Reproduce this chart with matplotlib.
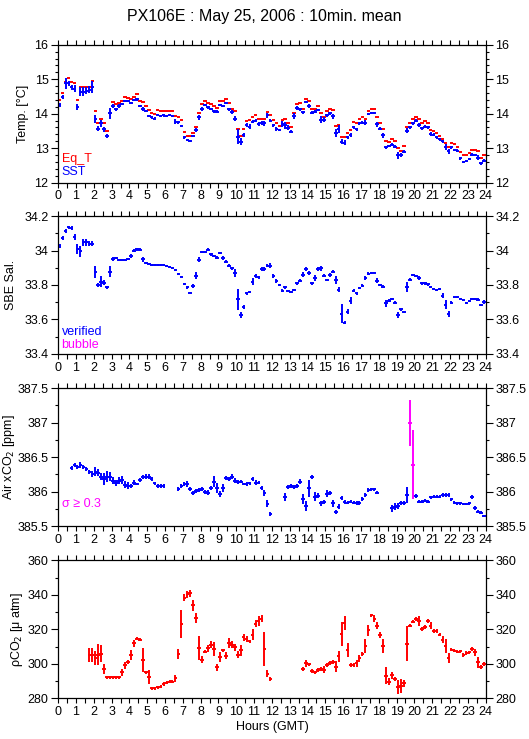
import numpy as np
import matplotlib
matplotlib.use("Agg")
import matplotlib.pyplot as plt
from matplotlib.ticker import MultipleLocator, FuncFormatter

plt.rcParams['font.family'] = ['Liberation Sans', 'DejaVu Sans']
nan = np.nan

# 10 minute means, 144 bins over 0..24 h GMT
bin_hours = (np.arange(144) + 0.5) / 6.0
half_bin = 0.1   # half width of the horizontal dash, hours

# Panel 1: temperatures [deg C]
sst = [14.25, 14.49, 14.88, 14.88, 14.76, 14.73, 14.20, 14.64, 14.64, 14.67, 14.69, 14.78,
       13.84, 13.57, 13.72, 13.55, 13.35, 14.01, 14.22, 14.13, 14.22, 14.28, 14.36, 14.36,
       14.30, 14.40, 14.42, 14.22, 14.14, 14.09, 13.93, 13.89, 13.86, 13.96, 13.93, 13.95,
       13.93, 13.96, 13.93, 13.77, 13.75, 13.64, 13.31, 13.24, 13.21, 13.35, 13.53, 13.89,
       14.14, 14.24, 14.18, 14.14, 14.07, 14.06, 14.25, 14.22, 14.30, 14.13, 14.05, 13.86,
       13.33, 13.19, 13.38, 13.67, 13.62, 13.77, 13.80, 13.70, 13.72, 13.72, 13.95, 13.80,
       13.66, 13.55, 13.53, 13.70, 13.67, 13.59, 13.48, 13.93, 14.17, 14.13, 14.04, 14.34,
       14.22, 14.03, 14.06, 14.11, 13.82, 13.82, 13.95, 14.01, 13.93, 13.43, 13.55, 13.19,
       13.16, 13.31, 13.37, 13.60, 13.55, 13.72, 13.74, 13.74, 13.99, 14.03, 14.01, 13.69,
       13.57, 13.37, 13.02, 13.06, 13.10, 13.04, 12.79, 12.81, 12.90, 13.51, 13.60, 13.72,
       13.80, 13.67, 13.58, 13.62, 13.60, 13.41, 13.39, 13.31, 13.26, 13.20, 13.04, 12.91,
       13.02, 12.95, 12.93, 12.71, 12.61, 12.63, 12.68, 12.81, 12.80, 12.73, 12.56, 12.64]
sst_err = [0.06, 0.06, 0.15, 0.08, 0.08, 0.10, 0.08, 0.13, 0.12, 0.10, 0.10, 0.17,
           0.12, 0.06, 0.10, 0.07, 0.05, 0.15, 0.05, 0.04, 0.05, 0.04, 0.03, 0.03,
           0.03, 0.04, 0.04, 0.04, 0.05, 0.03, 0.04, 0.04, 0.04, 0.03, 0.04, 0.04,
           0.04, 0.04, 0.04, 0.07, 0.05, 0.04, 0.03, 0.03, 0.03, 0.03, 0.05, 0.08,
           0.05, 0.03, 0.04, 0.03, 0.04, 0.04, 0.04, 0.04, 0.03, 0.04, 0.05, 0.08,
           0.22, 0.10, 0.05, 0.07, 0.07, 0.05, 0.04, 0.06, 0.06, 0.07, 0.07, 0.05,
           0.04, 0.05, 0.04, 0.10, 0.10, 0.07, 0.05, 0.08, 0.05, 0.04, 0.05, 0.04,
           0.06, 0.04, 0.04, 0.03, 0.10, 0.07, 0.04, 0.05, 0.07, 0.12, 0.12, 0.08,
           0.08, 0.04, 0.06, 0.05, 0.04, 0.05, 0.05, 0.08, 0.04, 0.03, 0.03, 0.08,
           0.05, 0.08, 0.04, 0.04, 0.04, 0.04, 0.10, 0.06, 0.04, 0.07, 0.04, 0.04,
           0.04, 0.07, 0.04, 0.04, 0.03, 0.05, 0.04, 0.04, 0.04, 0.04, 0.08, 0.08,
           0.04, 0.04, 0.04, 0.04, 0.03, 0.03, 0.03, 0.04, 0.03, 0.06, 0.04, 0.04]
eq_t = [14.40, 14.59, 14.93, 15.04, 14.93, 14.88, 14.40, 14.76, 14.78, 14.78, 14.78, 14.96,
        14.09, 13.72, 13.86, 13.72, 13.49, 14.03, 14.35, 14.28, 14.32, 14.38, 14.49, 14.46,
        14.42, 14.49, 14.56, 14.38, 14.34, 14.22, 14.10, 14.03, 13.99, 14.10, 14.07, 14.09,
        14.07, 14.09, 14.09, 13.93, 13.89, 13.82, 13.48, 13.35, 13.35, 13.45, 13.62, 14.03,
        14.28, 14.38, 14.32, 14.28, 14.22, 14.16, 14.38, 14.36, 14.42, 14.30, 14.14, 14.07,
        13.55, 13.35, 13.55, 13.80, 13.82, 13.89, 13.95, 13.84, 13.84, 13.84, 14.06, 13.95,
        13.82, 13.72, 13.65, 13.82, 13.84, 13.72, 13.60, 14.01, 14.28, 14.30, 14.14, 14.44,
        14.37, 14.15, 14.15, 14.22, 14.01, 13.91, 14.07, 14.13, 14.11, 13.64, 13.67, 13.33,
        13.31, 13.43, 13.53, 13.76, 13.72, 13.84, 13.89, 13.86, 14.09, 14.14, 14.15, 13.89,
        13.72, 13.57, 13.21, 13.19, 13.26, 13.20, 13.01, 12.93, 13.06, 13.60, 13.74, 13.84,
        13.91, 13.84, 13.74, 13.78, 13.74, 13.53, 13.49, 13.43, 13.35, 13.28, 13.14, 13.02,
        13.14, 13.11, 13.04, 12.90, 12.79, 12.79, 12.85, 12.95, 12.95, 12.91, 12.72, 12.80]

# Panel 2: SBE salinity
sal = [34.027, 34.072, 34.111, 34.134, 34.130, 34.078, 34.008, 33.995, 34.047, 34.047, 34.040, 34.040,
       33.878, 33.800, 33.820, 33.814, 33.787, 33.878, 33.950, 33.956, 33.946, 33.946, 33.946, 33.950,
       33.969, 34.000, 34.008, 34.004, 33.950, 33.927, 33.923, 33.915, 33.917, 33.915, 33.917, 33.915,
       33.911, 33.907, 33.896, 33.888, 33.865, 33.849, 33.807, 33.787, 33.756, 33.795, 33.853, 33.946,
       33.991, 33.993, 34.004, 33.977, 33.966, 33.958, 33.985, 33.956, 33.936, 33.913, 33.896, 33.869,
       33.717, 33.626, 33.671, 33.752, 33.760, 33.820, 33.853, 33.845, 33.892, 33.892, 33.911, 33.911,
       33.853, 33.824, 33.800, 33.768, 33.787, 33.766, 33.762, 33.772, 33.810, 33.824, 33.859, 33.892,
       33.869, 33.810, 33.841, 33.892, 33.898, 33.853, 33.830, 33.859, 33.878, 33.830, 33.772, 33.632,
       33.582, 33.644, 33.710, 33.768, 33.752, 33.783, 33.795, 33.841, 33.865, 33.872, 33.872, 33.824,
       33.800, 33.791, 33.694, 33.710, 33.721, 33.698, 33.626, 33.659, 33.642, 33.787, 33.830, 33.859,
       33.853, 33.839, 33.810, 33.810, 33.803, 33.787, 33.779, 33.772, 33.776, 33.737, 33.686, 33.632,
       33.698, 33.729, 33.729, 33.721, 33.714, 33.698, 33.706, 33.717, 33.717, 33.714, 33.684, 33.702]
sal_err = [0.010, 0.010, 0.012, 0.010, 0.012, 0.020, 0.030, 0.030, 0.020, 0.020, 0.015, 0.015,
           0.035, 0.010, 0.030, 0.015, 0.010, 0.030, 0.010, 0.008, 0.005, 0.005, 0.005, 0.005,
           0.010, 0.008, 0.008, 0.008, 0.015, 0.005, 0.005, 0.005, 0.005, 0.004, 0.004, 0.004,
           0.004, 0.005, 0.005, 0.005, 0.005, 0.004, 0.006, 0.010, 0.005, 0.010, 0.020, 0.015,
           0.008, 0.005, 0.008, 0.010, 0.006, 0.008, 0.006, 0.010, 0.008, 0.010, 0.010, 0.025,
           0.060, 0.020, 0.012, 0.008, 0.008, 0.020, 0.010, 0.008, 0.012, 0.010, 0.008, 0.015,
           0.010, 0.010, 0.008, 0.006, 0.010, 0.006, 0.006, 0.006, 0.008, 0.008, 0.015, 0.012,
           0.012, 0.010, 0.015, 0.012, 0.015, 0.008, 0.005, 0.012, 0.008, 0.025, 0.015, 0.055,
           0.010, 0.015, 0.020, 0.006, 0.008, 0.008, 0.008, 0.012, 0.008, 0.006, 0.004, 0.015,
           0.006, 0.008, 0.020, 0.010, 0.006, 0.010, 0.020, 0.010, 0.004, 0.030, 0.008, 0.005,
           0.005, 0.012, 0.008, 0.008, 0.006, 0.005, 0.005, 0.004, 0.004, 0.015, 0.025, 0.020,
           0.008, 0.004, 0.004, 0.005, 0.004, 0.006, 0.005, 0.006, 0.006, 0.008, 0.004, 0.010]

# Panel 3: air xCO2 [ppm]
air_xco2 = [nan, nan, nan, nan, 386.338, 386.386, 386.352, 386.386, 386.352, 386.323, 386.289, 386.255,
            386.289, 386.275, 386.217, 386.178, 386.217, 386.217, 386.159, 386.120, 386.159, 386.168, 386.096, 386.081,
            386.081, 386.130, 386.110, 386.168, 386.207, 386.217, 386.217, 386.178, 386.120, 386.081, 386.081, 386.081,
            nan, nan, nan, nan, 386.033, 386.081, 386.110, 386.110, 386.033, 385.975, 386.013, 386.023,
            386.042, 385.999, 385.984, 386.047, 386.144, 386.047, 385.965, 386.047, 386.192, 386.178, 386.217, 386.159,
            386.144, 386.144, 386.110, 386.110, 386.120, 386.178, 386.130, 386.130, 386.047, 385.975, 385.820, 385.674,
            nan, nan, nan, nan, 385.916, 386.062, 386.081, 386.062, 386.081, 386.144, 385.887, 385.790,
            386.047, 386.207, 385.926, 385.940, 385.829, 385.853, 385.965, 385.984, 385.829, 385.699, 385.781, 385.902,
            385.853, 385.839, 385.853, 385.839, 385.829, 385.829, 385.887, 385.950, 386.023, 386.033, 386.033, 385.984,
            nan, nan, nan, nan, 385.757, 385.781, 385.790, 385.839, 385.829, 385.950, 386.990, 386.386,
            385.936, 385.853, 385.853, 385.868, 385.853, 385.916, 385.926, 385.926, 385.926, 385.950, 385.950, 385.950,
            385.887, 385.839, 385.829, 385.829, 385.820, 385.820, 385.829, 385.916, 385.757, 385.709, 385.694, 385.646]
air_xco2_err = [nan, nan, nan, nan, 0.03, 0.03, 0.03, 0.04, 0.03, 0.03, 0.03, 0.04,
                0.06, 0.05, 0.05, 0.09, 0.08, 0.07, 0.05, 0.04, 0.05, 0.06, 0.05, 0.05,
                0.03, 0.03, 0.02, 0.03, 0.03, 0.03, 0.03, 0.03, 0.02, 0.03, 0.03, 0.03,
                nan, nan, nan, nan, 0.03, 0.03, 0.03, 0.04, 0.03, 0.03, 0.03, 0.03,
                0.03, 0.03, 0.04, 0.03, 0.08, 0.07, 0.04, 0.06, 0.03, 0.03, 0.03, 0.03,
                0.03, 0.02, 0.02, 0.03, 0.02, 0.03, 0.03, 0.02, 0.03, 0.04, 0.05, 0.03,
                nan, nan, nan, nan, 0.06, 0.03, 0.03, 0.03, 0.03, 0.04, 0.07, 0.07,
                0.12, 0.03, 0.06, 0.04, 0.04, 0.03, 0.05, 0.03, 0.05, 0.03, 0.04, 0.03,
                0.03, 0.02, 0.02, 0.02, 0.03, 0.03, 0.03, 0.03, 0.03, 0.02, 0.02, 0.02,
                nan, nan, nan, nan, 0.05, 0.05, 0.05, 0.03, 0.03, 0.12, 0.33, 0.50,
                0.03, 0.02, 0.02, 0.02, 0.02, 0.02, 0.02, 0.02, 0.02, 0.03, 0.03, 0.03,
                0.02, 0.02, 0.02, 0.02, 0.02, 0.02, 0.02, 0.03, 0.03, 0.02, 0.02, 0.02]

# Panel 4: pCO2 [uatm]
pco2 = [nan, nan, nan, nan, nan, nan, nan, nan, nan, nan, 305.2, 305.2,
        303.3, 305.2, 305.8, 296.9, 292.2, 292.2, 292.2, 292.2, 292.2, 295.0, 299.2, 301.0,
        305.2, 312.0, 314.6, 314.0, 302.3, 295.1, 292.2, 285.8, 285.8, 286.4, 286.8, 288.3,
        289.1, 289.7, 289.7, 291.7, 305.8, 323.1, 338.3, 340.2, 340.8, 333.8, 326.6, 309.1,
        302.3, 307.0, 309.1, 311.1, 308.5, 298.1, 303.9, 307.8, 304.7, 312.0, 311.1, 309.7,
        305.2, 307.8, 315.5, 314.4, 313.0, 316.9, 323.1, 324.7, 326.0, 308.5, 294.2, 291.1,
        nan, nan, nan, nan, nan, nan, nan, nan, nan, nan, 296.9, 300.4,
        299.6, 295.7, 295.0, 296.5, 296.9, 296.5, 299.2, 300.4, 301.0, 298.4, 304.3, 317.5,
        323.7, 307.8, 299.2, 299.2, 300.4, 303.1, 305.8, 310.5, 319.4, 328.0, 326.0, 322.1,
        316.7, 310.1, 293.0, 289.7, 293.4, 291.3, 286.4, 287.2, 288.7, 311.7, 322.1, 324.5,
        326.0, 324.7, 320.2, 321.4, 324.7, 322.1, 319.0, 319.0, 316.9, 314.0, 310.5, 303.3,
        308.2, 307.6, 307.0, 307.2, 305.2, 306.2, 306.6, 308.5, 306.6, 300.8, 298.1, 300.0]
pco2_err = [nan, nan, nan, nan, nan, nan, nan, nan, nan, nan, 4, 4,
            4, 6, 5, 3, 1, 1, 1, 1, 1, 2, 2, 1,
            3, 2, 1, 1, 7, 1, 4, 1, 1, 1, 1, 1,
            1, 1, 1, 2, 3, 8, 2, 2, 2, 3, 3, 7,
            2, 1, 2, 2, 4, 2, 3, 1, 2, 3, 2, 2,
            2, 3, 2, 2, 1, 3, 2, 3, 2, 10, 2, 1,
            nan, nan, nan, nan, nan, nan, nan, nan, nan, nan, 1, 2,
            1, 1, 1, 1, 1, 2, 1, 1, 1, 3, 3, 7,
            4, 4, 1, 1, 2, 2, 1, 4, 3, 1, 2, 2,
            2, 4, 5, 2, 2, 1, 4, 4, 2, 10, 1, 1,
            1, 3, 1, 1, 1, 2, 1, 1, 1, 2, 4, 3,
            1, 1, 1, 1, 1, 1, 1, 1, 2, 3, 1, 1]

BLUE = (0, 0, 1)
RED = (1, 0, 0)
MAGENTA = (1, 0, 1)
LW = 1.4


def crosses(ax, x, y, err, color):
    ax.errorbar(x, y, yerr=err, xerr=half_bin, fmt='none',
                ecolor=color, elinewidth=LW, capsize=0)


def style_axes(ax, ylim, major, minor, ylabel, label_x):
    ax.set_xlim(0, 24)
    ax.set_ylim(*ylim)
    ax.xaxis.set_major_locator(MultipleLocator(1))
    ax.xaxis.set_minor_locator(MultipleLocator(0.5))
    ax.yaxis.set_major_locator(MultipleLocator(major))
    ax.yaxis.set_minor_locator(MultipleLocator(minor))
    ax.yaxis.set_major_formatter(FuncFormatter(lambda v, p: '%g' % round(v, 3)))
    ax.tick_params(which='both', direction='out', top=True, right=True,
                   labelright=True, labelsize=9, width=0.8, pad=2)
    ax.tick_params(axis='x', which='both', length=3.6)
    ax.tick_params(axis='y', which='major', length=5)
    ax.tick_params(axis='y', which='minor', length=2.5)
    for s in ax.spines.values():
        s.set_linewidth(0.9)
    # label_x is where the right edge of the rotated label sits
    ax.set_ylabel(ylabel, fontsize=9)
    ax.yaxis.set_label_coords(label_x, 0.5)


fig = plt.figure(figsize=(5.29, 7.39), dpi=100)
fig.suptitle('PX106E : May 25, 2006 : 10min. mean', fontsize=11.5, y=0.988)

left, width, height = 0.110, 0.808, 0.1867
ax1 = fig.add_axes([left, 0.7528, width, height])
ax2 = fig.add_axes([left, 0.5210, width, height])
ax3 = fig.add_axes([left, 0.2882, width, height])
ax4 = fig.add_axes([left, 0.0551, width, height])

# temperature
ax1.errorbar(bin_hours, eq_t, xerr=half_bin, fmt='none', ecolor=RED,
             elinewidth=LW, capsize=0)
crosses(ax1, bin_hours, sst, sst_err, BLUE)
style_axes(ax1, (12, 16), 1, 0.2, 'Temp. [°C]', -0.069)
ax1.text(0.008, 0.172, 'Eq_T', color=RED, fontsize=9, transform=ax1.transAxes, va='center')
ax1.text(0.008, 0.078, 'SST', color=BLUE, fontsize=9, transform=ax1.transAxes, va='center')

# salinity
crosses(ax2, bin_hours, sal, sal_err, BLUE)
style_axes(ax2, (33.4, 34.2), 0.2, 0.1, 'SBE Sal.', -0.097)
ax2.text(0.008, 0.16, 'verified', color=BLUE, fontsize=9, transform=ax2.transAxes, va='center')
ax2.text(0.008, 0.065, 'bubble', color=MAGENTA, fontsize=9, transform=ax2.transAxes, va='center')

# air xCO2, sigma >= 0.3 in magenta
xco2 = np.asarray(air_xco2, dtype=float)
xco2_err = np.asarray(air_xco2_err, dtype=float)
big = xco2_err >= 0.3
crosses(ax3, bin_hours[~big], xco2[~big], xco2_err[~big], BLUE)
crosses(ax3, bin_hours[big], xco2[big], xco2_err[big], MAGENTA)
style_axes(ax3, (385.5, 387.5), 0.5, 0.25, 'Air xCO$_2$ [ppm]', -0.097)
ax3.text(0.008, 0.156, 'σ ≥ 0.3', color=MAGENTA, fontsize=9, transform=ax3.transAxes, va='center')

# pCO2
crosses(ax4, bin_hours, pco2, pco2_err, RED)
style_axes(ax4, (280, 360), 20, 10, 'ρCO$_2$ [μ atm]', -0.078)
ax4.set_xlabel('Hours (GMT)', fontsize=9, labelpad=2)

fig.savefig('out.png', dpi=100)
